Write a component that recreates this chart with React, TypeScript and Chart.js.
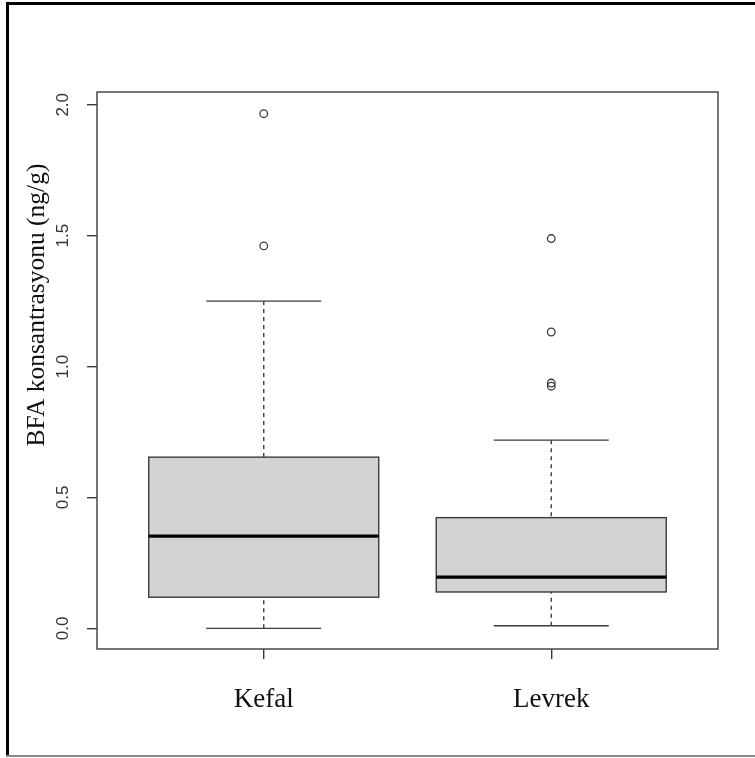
import React, { useEffect, useRef } from "react";
import { Chart, registerables } from "chart.js";

Chart.register(...registerables);

// ---- data ----
const categories = ["Kefal", "Levrek"];
const whiskerLow = [0.0, 0.01];
const q1 = [0.119, 0.139];
const median = [0.352, 0.196];
const q3 = [0.654, 0.423];
const whiskerHigh = [1.25, 0.719];
const outliers = [
  [1.966, 1.461],
  [1.489, 1.132, 0.937, 0.925],
];
const yTicks = [0, 0.5, 1.0, 1.5, 2.0];
const yTitle = "BFA konsantrasyonu (ng/g)";

// ---- style ----
const LINE = "#3c3c3c";
const BOX_FILL = "#d3d3d3";
const BOX_HALF = 0.4;
const CAP_HALF = 0.2;

const boxPlugin = {
  id: "rBoxplot",
  beforeDatasetsDraw(chart: any) {
    const { ctx, scales } = chart;
    const x = scales.x;
    const y = scales.y;
    ctx.save();
    categories.forEach((_, i) => {
      const cx = x.getPixelForValue(i + 1);
      const hw = x.getPixelForValue(i + 1 + BOX_HALF) - cx;
      const cw = x.getPixelForValue(i + 1 + CAP_HALF) - cx;
      const pLow = y.getPixelForValue(whiskerLow[i]);
      const pQ1 = y.getPixelForValue(q1[i]);
      const pMed = y.getPixelForValue(median[i]);
      const pQ3 = y.getPixelForValue(q3[i]);
      const pHigh = y.getPixelForValue(whiskerHigh[i]);

      ctx.strokeStyle = LINE;
      ctx.lineWidth = 1.4;
      ctx.setLineDash([4, 4]);
      ctx.beginPath();
      ctx.moveTo(cx, pLow);
      ctx.lineTo(cx, pQ1);
      ctx.moveTo(cx, pHigh);
      ctx.lineTo(cx, pQ3);
      ctx.stroke();
      ctx.setLineDash([]);

      ctx.beginPath();
      ctx.moveTo(cx - cw, pLow);
      ctx.lineTo(cx + cw, pLow);
      ctx.moveTo(cx - cw, pHigh);
      ctx.lineTo(cx + cw, pHigh);
      ctx.stroke();

      ctx.fillStyle = BOX_FILL;
      ctx.fillRect(cx - hw, pQ3, 2 * hw, pQ1 - pQ3);
      ctx.strokeRect(cx - hw, pQ3, 2 * hw, pQ1 - pQ3);

      ctx.strokeStyle = "#000";
      ctx.lineWidth = 3.2;
      ctx.beginPath();
      ctx.moveTo(cx - hw, pMed);
      ctx.lineTo(cx + hw, pMed);
      ctx.stroke();
    });
    ctx.restore();
  },
  afterDraw(chart: any) {
    const { ctx, chartArea } = chart;
    ctx.save();
    // plot frame
    ctx.strokeStyle = LINE;
    ctx.lineWidth = 1.4;
    ctx.strokeRect(
      chartArea.left,
      chartArea.top,
      chartArea.right - chartArea.left,
      chartArea.bottom - chartArea.top
    );
    // outer picture frame
    ctx.fillStyle = "#000";
    ctx.fillRect(6, 2, 749, 3);
    ctx.fillRect(6, 2, 3, 755);
    ctx.fillStyle = "#8a8a8a";
    ctx.fillRect(6, 755, 749, 2);
    // y title
    ctx.fillStyle = "#111";
    ctx.font = "25.5px 'Liberation Serif', 'Times New Roman', serif";
    ctx.textAlign = "center";
    ctx.textBaseline = "alphabetic";
    ctx.translate(44, 305);
    ctx.rotate(-Math.PI / 2);
    ctx.fillText(yTitle, 0, 0);
    ctx.restore();
  },
};

export default function App() {
  const ref = useRef<HTMLCanvasElement | null>(null);

  useEffect(() => {
    if (!ref.current) return;
    const outlierPoints: { x: number; y: number }[] = [];
    outliers.forEach((vals, i) =>
      vals.forEach((v) => outlierPoints.push({ x: i + 1, y: v }))
    );

    const chart = new Chart(ref.current, {
      type: "scatter",
      data: {
        datasets: [
          {
            label: "outliers",
            data: outlierPoints,
            pointStyle: "circle",
            pointRadius: 3.8,
            pointBorderWidth: 1.3,
            pointBorderColor: LINE,
            pointBackgroundColor: "rgba(255,255,255,0)",
          },
        ],
      },
      options: {
        responsive: false,
        animation: false,
        events: [],
        layout: { padding: { left: 0, top: 92, right: 37, bottom: 0 } },
        plugins: {
          legend: { display: false },
          tooltip: { enabled: false },
          title: { display: false },
        },
        scales: {
          x: {
            type: "linear",
            min: 0.42,
            max: 2.58,
            afterFit: (s: any) => {
              s.height = 109;
            },
            afterBuildTicks: (s: any) => {
              s.ticks = categories.map((_, i) => ({ value: i + 1 }));
            },
            border: { display: false },
            grid: {
              drawOnChartArea: false,
              drawTicks: true,
              tickLength: 10,
              color: LINE,
              lineWidth: 1.4,
            },
            ticks: {
              padding: 25,
              color: "#111",
              font: { family: "'Liberation Serif', 'Times New Roman', serif", size: 27 },
              callback: (v: any) => categories[Math.round(Number(v)) - 1] ?? "",
              maxRotation: 0,
              minRotation: 0,
              autoSkip: false,
            },
          },
          y: {
            type: "linear",
            min: -0.0788,
            max: 2.0488,
            afterFit: (s: any) => {
              s.width = 97;
            },
            afterBuildTicks: (s: any) => {
              s.ticks = yTicks.map((v) => ({ value: v }));
            },
            border: { display: false },
            grid: {
              drawOnChartArea: false,
              drawTicks: true,
              tickLength: 10,
              color: LINE,
              lineWidth: 1.4,
            },
            ticks: {
              padding: 12,
              crossAlign: "center",
              minRotation: 90,
              maxRotation: 90,
              color: "#333",
              font: { family: "'Liberation Sans', Arial, sans-serif", size: 17 },
              callback: (v: any) => Number(v).toFixed(1),
              autoSkip: false,
            },
          },
        },
      },
      plugins: [boxPlugin],
    });
    return () => chart.destroy();
  }, []);

  return (
    <div style={{ position: "fixed", left: 0, top: 0, width: 755, height: 758, background: "#fff" }}>
      <canvas ref={ref} width={755} height={758} style={{ display: "block" }} />
    </div>
  );
}
